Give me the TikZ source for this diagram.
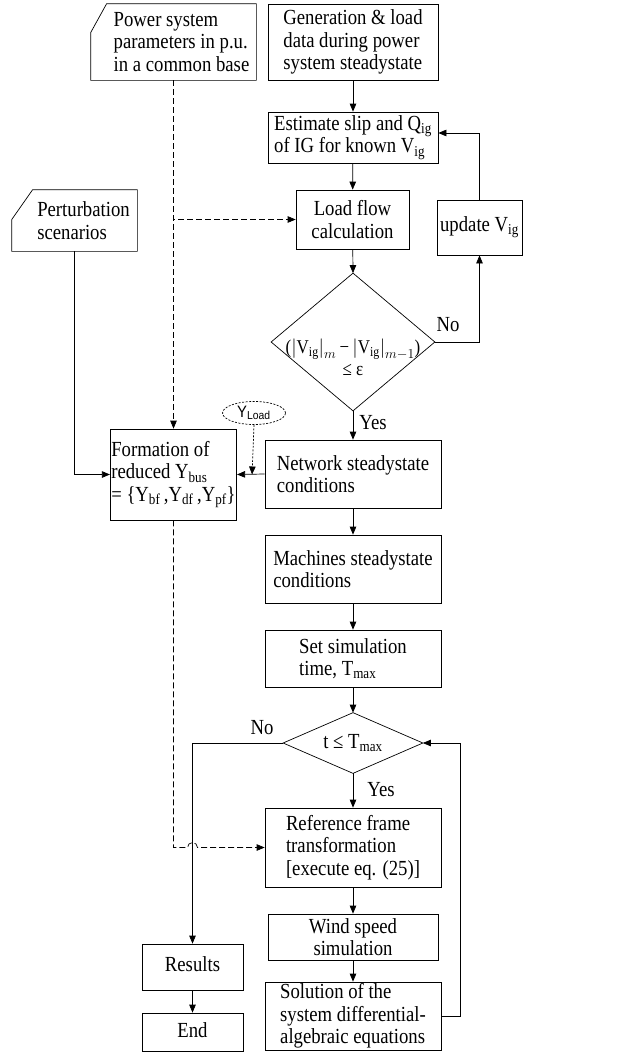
\RequirePackage{fix-cm}
\documentclass[tikz,border=0pt]{standalone}
\usepackage{fontspec}
\setmainfont{Liberation Serif}[FakeStretch=0.87]
\newfontfamily\loadfont{Liberation Sans}[FakeStretch=0.9]
\usepackage{tikz}
\usetikzlibrary{arrows.meta,shapes.geometric}

\newcommand{\Vig}{V\textsubscript{ig}}

\begin{document}
\begin{tikzpicture}[x=1pt, y=-1pt, line width=0.7pt,
 font=\fontsize{21.5}{22.5}\selectfont,
 >={Triangle[length=8pt,width=6.5pt]},
 box/.style={draw, inner sep=1pt, align=center},
 lbox/.style={box, align=left},
 dsh/.style={dash pattern=on 6pt off 3pt},
 fine/.style={dash pattern=on 2pt off 1.5pt}
]
 \useasboundingbox (0,0) rectangle (631,1052);

 % Inputs (cut corner)
 \node[lbox, draw=none, minimum width=165pt, minimum height=76pt] (pwr) at (173.5,42)
 {\hspace*{16pt}Power system\\\hspace*{16pt}parameters in p.u.\\\hspace*{16pt}in a common base};
 \draw ([yshift=-29pt]pwr.north west) -- ([xshift=16pt]pwr.north west) -- (pwr.north east)
 -- (pwr.south east) -- (pwr.south west) -- cycle;
 \node[lbox, draw=none, minimum width=125pt, minimum height=61pt] (pert) at (74.5,220.5)
 {\hspace*{18pt}Perturbation\\\hspace*{18pt}scenarios};
 \draw ([yshift=-30pt]pert.north west) -- ([xshift=21pt]pert.north west) -- (pert.north east)
 -- (pert.south east) -- (pert.south west) -- cycle;

 % Load flow part
 \node[lbox, minimum width=170pt, minimum height=76pt] (gen) at (353,42)
 {Generation \& load\\data during power\\system steadystate};
 \node[lbox, minimum width=170pt, minimum height=51pt] (est) at (353,137.5)
 {Estimate slip and Q\textsubscript{ig}\\of IG for known \Vig};
 \node[box, minimum width=113pt, minimum height=59pt] (lfc) at (352.5,219.5)
 {Load flow\\calculation};
 \node[box, minimum width=85pt, minimum height=55pt] (upd) at (479.5,227.5) {update \Vig};
 \node[minimum width=163pt, minimum height=137pt, inner sep=0pt] (d1) at (353,342) {};
 \draw (d1.north) -- (d1.east) -- (d1.south) -- (d1.west) -- cycle;
 \node[align=center, inner sep=0pt, font=\fontsize{19.5}{21}\selectfont] (d1txt) at (353,357)
 {($\bigl|$\Vig$\bigr|_{m}$\,−\,$\bigl|$\Vig$\bigr|_{m-1}$)\\[1pt]≤ ε};
 \node[inner sep=0pt] (no1) at (448,325) {No};
 \node[inner sep=0pt] (yes1) at (373,423) {Yes};

 % Network
 \node[lbox, minimum width=119pt, minimum height=91pt] (form) at (173.5,474.5)
 {Formation of\\reduced Y\textsubscript{bus}\\= \{Y\textsubscript{bf}\,,Y\textsubscript{df}\,,Y\textsubscript{pf}\}};
 \node[draw, fine, ellipse, minimum width=63pt, minimum height=23pt, inner sep=0pt,
 font=\loadfont\fontsize{16.5}{17}\selectfont] (yld) at (254,413) {Y\textsubscript{Load}};
 \node[lbox, minimum width=176pt, minimum height=68pt] (net) at (353,474)
 {Network steadystate\\conditions};
 \node[lbox, minimum width=176pt, minimum height=68pt] (mach) at (353,569)
 {Machines steadystate\\conditions};
 \node[lbox, minimum width=176pt, minimum height=57pt] (sim) at (353,658.5)
 {Set simulation\\time, T\textsubscript{max}};

 % Time loop
 \node[minimum width=139pt, minimum height=60pt, inner sep=0pt] (d2) at (353,743) {t ≤ T\textsubscript{max}};
 \draw (d2.north) -- (d2.east) -- (d2.south) -- (d2.west) -- cycle;
 \node[inner sep=0pt] (no2) at (262,728) {No};
 \node[inner sep=0pt] (yes2) at (381,790) {Yes};
 \node[lbox, minimum width=176pt, minimum height=79pt] (ref) at (353,847.5)
 {Reference frame\\transformation\\{[execute eq. (25)]}};
 \node[box, minimum width=170pt, minimum height=46pt] (wind) at (353,937)
 {Wind speed\\simulation};
 \node[lbox, minimum width=176pt, minimum height=68pt, inner sep=0pt] (sol) at (353,1016)
 {Solution of the\\system differential-\\algebraic equations};
 \node[box, minimum width=101pt, minimum height=46pt] (res) at (192.5,967) {\raisebox{6pt}{Results}};
 \node[box, minimum width=101pt, minimum height=38pt] (endb) at (192.5,1032) {\raisebox{3pt}{End}};

 % Connectors
 \draw[->] (gen) -- (est);
 \draw[->] (est) -- (lfc);
 \draw[->] (lfc) -- (d1.north);
 \draw[->] (d1.east) -| (upd.south);
 \draw[->] (upd.north) |- ([yshift=4.5pt]est.east);
 \draw[->] (d1.south) -- (net.north);
 \draw[->] (net.west) -- (form.east);
 \draw[->] (pert.south) |- (form.west);
 \draw[->, dsh] (pwr.south) -- (form.north);
 \draw[->, dsh] (pwr.south) |- (lfc.west);
 \draw[->, fine] (yld.south) -- ([xshift=15pt]form.east);
 \draw[->] (net) -- (mach);
 \draw[->] (mach) -- (sim);
 \draw[->] (sim) -- (d2.north);
 \draw[->] (d2.south) -- (ref.north);
 \draw[->] (ref) -- (wind);
 \draw[->] (wind) -- (sol);
 \draw[->] (sol.east) -- ++(19,0) |- (d2.east);
 \draw[->] (d2.west) -| (res.north);
 \draw[->] (res) -- (endb);
 \coordinate (hop) at (192.5,847.5);
 \draw[->, dsh] (form.south) |- ([xshift=-5pt]hop) arc[start angle=180, end angle=0, radius=5pt] -- (ref.west);
\end{tikzpicture}
\end{document}
